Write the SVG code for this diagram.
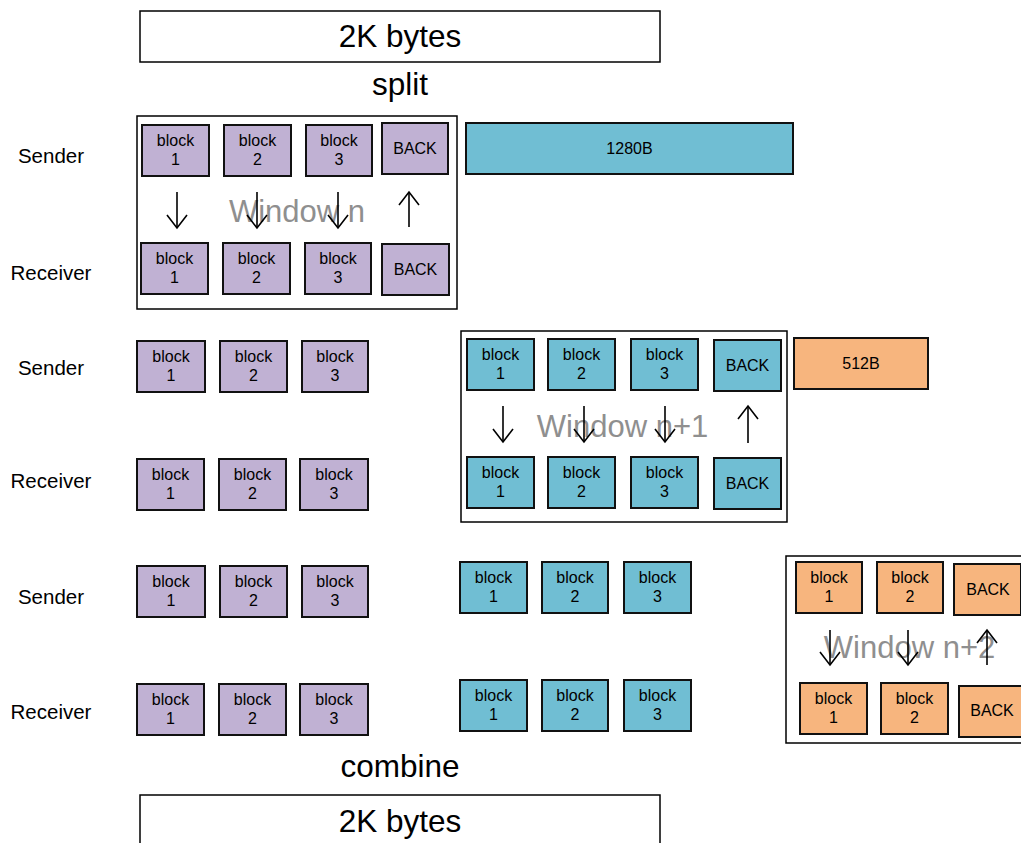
<svg xmlns="http://www.w3.org/2000/svg" width="1021" height="843" viewBox="0 0 1021 843">
<defs>
<style>
text{font-family:"Liberation Sans",Arial,sans-serif;fill:#000;text-anchor:middle}
.big{font-size:31.5px}
.lbl{font-size:20.5px}
.sm{font-size:16px}
.win{font-size:31px;fill:#8f8f8f}
.frame{fill:#fff;stroke:#000;stroke-width:1.5}
.p{fill:#c0b1d3;stroke:#111;stroke-width:2}
.t{fill:#70bed3;stroke:#111;stroke-width:2}
.o{fill:#f7b57e;stroke:#111;stroke-width:2}
.arr{stroke:#000;stroke-width:1.6;fill:none;marker-end:url(#chev)}
</style>
<marker id="chev" viewBox="0 0 14 22" refX="13" refY="11" markerWidth="14" markerHeight="22" markerUnits="userSpaceOnUse" orient="auto" overflow="visible">
<path d="M0,1 L13,11 L0,21" fill="none" stroke="#000" stroke-width="1.6"/>
</marker>
</defs>

<g id="top-2k"><rect x="140" y="11" width="520" height="51" class="frame"/><text x="400" y="47" class="big">2K bytes</text></g>
<text x="400" y="95" class="big">split</text>

<g id="labels">
<text x="51" y="163" class="lbl">Sender</text>
<text x="51" y="280" class="lbl">Receiver</text>
<text x="51" y="375" class="lbl">Sender</text>
<text x="51" y="488" class="lbl">Receiver</text>
<text x="51" y="604" class="lbl">Sender</text>
<text x="51" y="719" class="lbl">Receiver</text>
</g>

<!-- Window n -->
<g id="window-n">
<rect x="137" y="116" width="320" height="193" class="frame"/>
<text x="297" y="222" class="win">Window n</text>
</g>
<g id="wn-s1"><rect x="142" y="125" width="67" height="51" class="p"/><text x="175.5" y="146" class="sm">block</text><text x="175.5" y="165" class="sm">1</text></g>
<g id="wn-s2"><rect x="224" y="125" width="67" height="51" class="p"/><text x="257.5" y="146" class="sm">block</text><text x="257.5" y="165" class="sm">2</text></g>
<g id="wn-s3"><rect x="306" y="125" width="66" height="51" class="p"/><text x="339" y="146" class="sm">block</text><text x="339" y="165" class="sm">3</text></g>
<g id="wn-sb"><rect x="382" y="123" width="66" height="51" class="p"/><text x="415" y="154" class="sm">BACK</text></g>
<g id="wn-r1"><rect x="141" y="243" width="67" height="51" class="p"/><text x="174.5" y="264" class="sm">block</text><text x="174.5" y="283" class="sm">1</text></g>
<g id="wn-r2"><rect x="223" y="243" width="67" height="51" class="p"/><text x="256.5" y="264" class="sm">block</text><text x="256.5" y="283" class="sm">2</text></g>
<g id="wn-r3"><rect x="305" y="243" width="66" height="51" class="p"/><text x="338" y="264" class="sm">block</text><text x="338" y="283" class="sm">3</text></g>
<g id="wn-rb"><rect x="382" y="244" width="67" height="51" class="p"/><text x="415.5" y="275" class="sm">BACK</text></g>
<g id="bar-1280"><rect x="466" y="123" width="327" height="51" class="t"/><text x="629.5" y="154" class="sm">1280B</text></g>

<!-- Row 2 purple -->
<g id="r2-s1"><rect x="137" y="341" width="68" height="51" class="p"/><text x="171" y="362" class="sm">block</text><text x="171" y="381" class="sm">1</text></g>
<g id="r2-s2"><rect x="220" y="341" width="67" height="51" class="p"/><text x="253.5" y="362" class="sm">block</text><text x="253.5" y="381" class="sm">2</text></g>
<g id="r2-s3"><rect x="302" y="341" width="66" height="51" class="p"/><text x="335" y="362" class="sm">block</text><text x="335" y="381" class="sm">3</text></g>
<g id="r2-r1"><rect x="137" y="459" width="67" height="51" class="p"/><text x="170.5" y="480" class="sm">block</text><text x="170.5" y="499" class="sm">1</text></g>
<g id="r2-r2"><rect x="219" y="459" width="67" height="51" class="p"/><text x="252.5" y="480" class="sm">block</text><text x="252.5" y="499" class="sm">2</text></g>
<g id="r2-r3"><rect x="300" y="459" width="68" height="51" class="p"/><text x="334" y="480" class="sm">block</text><text x="334" y="499" class="sm">3</text></g>

<!-- Window n+1 -->
<g id="window-n1">
<rect x="461" y="331" width="326" height="191" class="frame"/>
<text x="622.5" y="437" class="win">Window n+1</text>
</g>
<g id="wn1-s1"><rect x="467" y="339" width="67" height="51" class="t"/><text x="500.5" y="360" class="sm">block</text><text x="500.5" y="379" class="sm">1</text></g>
<g id="wn1-s2"><rect x="548" y="339" width="67" height="51" class="t"/><text x="581.5" y="360" class="sm">block</text><text x="581.5" y="379" class="sm">2</text></g>
<g id="wn1-s3"><rect x="631" y="339" width="67" height="51" class="t"/><text x="664.5" y="360" class="sm">block</text><text x="664.5" y="379" class="sm">3</text></g>
<g id="wn1-sb"><rect x="714" y="340" width="67" height="51" class="t"/><text x="747.5" y="371" class="sm">BACK</text></g>
<g id="wn1-r1"><rect x="467" y="457" width="67" height="51" class="t"/><text x="500.5" y="478" class="sm">block</text><text x="500.5" y="497" class="sm">1</text></g>
<g id="wn1-r2"><rect x="548" y="457" width="67" height="51" class="t"/><text x="581.5" y="478" class="sm">block</text><text x="581.5" y="497" class="sm">2</text></g>
<g id="wn1-r3"><rect x="631" y="457" width="67" height="51" class="t"/><text x="664.5" y="478" class="sm">block</text><text x="664.5" y="497" class="sm">3</text></g>
<g id="wn1-rb"><rect x="714" y="458" width="67" height="51" class="t"/><text x="747.5" y="489" class="sm">BACK</text></g>
<g id="bar-512"><rect x="794" y="338" width="134" height="51" class="o"/><text x="861" y="369" class="sm">512B</text></g>

<!-- Row 3 purple -->
<g id="r3-s1"><rect x="137" y="566" width="68" height="51" class="p"/><text x="171" y="587" class="sm">block</text><text x="171" y="606" class="sm">1</text></g>
<g id="r3-s2"><rect x="220" y="566" width="67" height="51" class="p"/><text x="253.5" y="587" class="sm">block</text><text x="253.5" y="606" class="sm">2</text></g>
<g id="r3-s3"><rect x="302" y="566" width="66" height="51" class="p"/><text x="335" y="587" class="sm">block</text><text x="335" y="606" class="sm">3</text></g>
<g id="r3-r1"><rect x="137" y="684" width="67" height="51" class="p"/><text x="170.5" y="705" class="sm">block</text><text x="170.5" y="724" class="sm">1</text></g>
<g id="r3-r2"><rect x="219" y="684" width="67" height="51" class="p"/><text x="252.5" y="705" class="sm">block</text><text x="252.5" y="724" class="sm">2</text></g>
<g id="r3-r3"><rect x="300" y="684" width="68" height="51" class="p"/><text x="334" y="705" class="sm">block</text><text x="334" y="724" class="sm">3</text></g>

<!-- Row 3 teal -->
<g id="r3-ts1"><rect x="460" y="562" width="67" height="51" class="t"/><text x="493.5" y="583" class="sm">block</text><text x="493.5" y="602" class="sm">1</text></g>
<g id="r3-ts2"><rect x="542" y="562" width="66" height="51" class="t"/><text x="575" y="583" class="sm">block</text><text x="575" y="602" class="sm">2</text></g>
<g id="r3-ts3"><rect x="624" y="562" width="67" height="51" class="t"/><text x="657.5" y="583" class="sm">block</text><text x="657.5" y="602" class="sm">3</text></g>
<g id="r3-tr1"><rect x="460" y="680" width="67" height="51" class="t"/><text x="493.5" y="701" class="sm">block</text><text x="493.5" y="720" class="sm">1</text></g>
<g id="r3-tr2"><rect x="542" y="680" width="66" height="51" class="t"/><text x="575" y="701" class="sm">block</text><text x="575" y="720" class="sm">2</text></g>
<g id="r3-tr3"><rect x="624" y="680" width="67" height="51" class="t"/><text x="657.5" y="701" class="sm">block</text><text x="657.5" y="720" class="sm">3</text></g>

<!-- Window n+2 -->
<g id="window-n2">
<rect x="786" y="556" width="260" height="187" class="frame"/>
<text x="909.5" y="658" class="win">Window n+2</text>
</g>
<g id="wn2-s1"><rect x="796" y="562" width="66" height="51" class="o"/><text x="829" y="583" class="sm">block</text><text x="829" y="602" class="sm">1</text></g>
<g id="wn2-s2"><rect x="877" y="562" width="66" height="51" class="o"/><text x="910" y="583" class="sm">block</text><text x="910" y="602" class="sm">2</text></g>
<g id="wn2-sb"><rect x="954" y="564" width="67" height="51" class="o"/><text x="988" y="595" class="sm">BACK</text></g>
<g id="wn2-r1"><rect x="800" y="683" width="67" height="51" class="o"/><text x="833.5" y="704" class="sm">block</text><text x="833.5" y="723" class="sm">1</text></g>
<g id="wn2-r2"><rect x="881" y="683" width="67" height="51" class="o"/><text x="914.5" y="704" class="sm">block</text><text x="914.5" y="723" class="sm">2</text></g>
<g id="wn2-rb"><rect x="959" y="686" width="67" height="51" class="o"/><text x="992" y="716" class="sm">BACK</text></g>

<g id="connectors">
<path class="arr" d="M177,192 V228"/>
<path class="arr" d="M257,192 V228"/>
<path class="arr" d="M338,192 V228"/>
<path class="arr" d="M409,227 V192"/>
<path class="arr" d="M503,406 V442"/>
<path class="arr" d="M584,406 V442"/>
<path class="arr" d="M665,406 V442"/>
<path class="arr" d="M748,443 V406"/>
<path class="arr" d="M830,630 V665"/>
<path class="arr" d="M908,630 V665"/>
<path class="arr" d="M987,665 V630"/>
</g>

<text x="400" y="777" class="big">combine</text>
<g id="bottom-2k"><rect x="140" y="795" width="520" height="70" class="frame"/><text x="400" y="832" class="big">2K bytes</text></g>
</svg>
